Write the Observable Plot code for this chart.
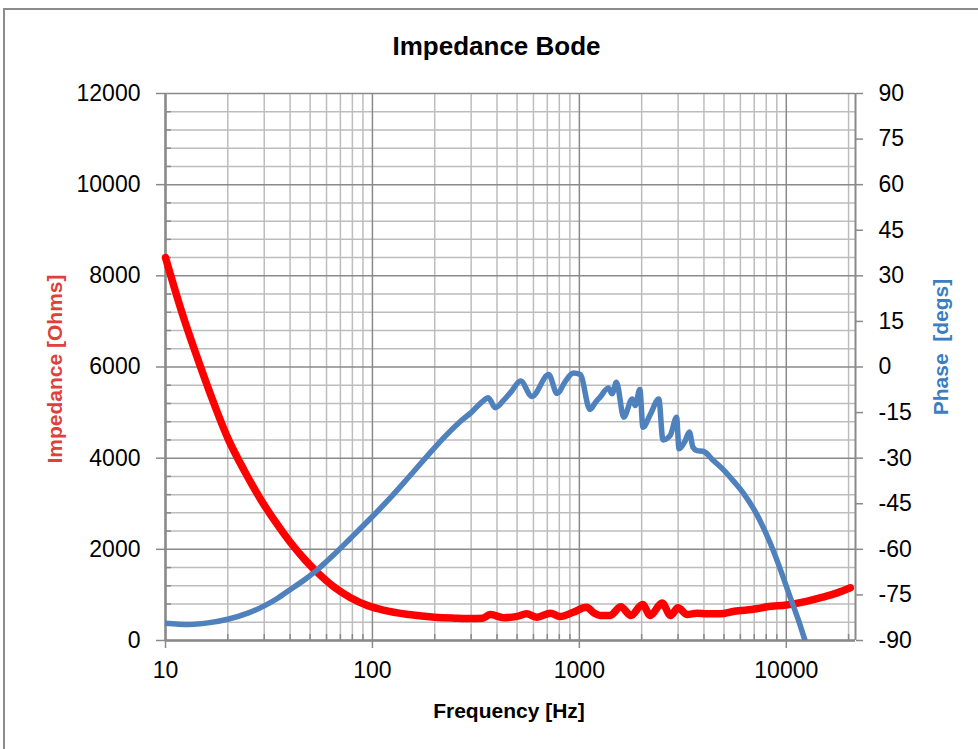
<!DOCTYPE html>
<html><head><meta charset="utf-8">
<script src="https://cdn.jsdelivr.net/npm/d3@7"></script>
<script src="https://cdn.jsdelivr.net/npm/@observablehq/plot@0.6"></script>
<style>
body{margin:0;background:#fff;overflow:hidden;width:978px;height:749px;position:relative;font-family:"Liberation Sans",Arial,sans-serif}
#frame{position:absolute;left:3px;top:8px;width:1100px;height:900px;border-left:2px solid #8c8c8c;border-top:2px solid #8c8c8c;}
#chart{position:absolute;left:0;top:0}
.lbl{position:absolute;font-weight:bold;font-size:21px;line-height:21px;white-space:nowrap}
#title{position:absolute;left:0;width:993px;top:33px;text-align:center;font-weight:bold;font-size:26px;line-height:26px}
</style></head><body>
<div id="frame"></div>
<div id="chart"></div>
<div id="title">Impedance Bode</div>
<div class="lbl" style="left:509px;top:700px;transform:translateX(-50%)">Frequency [Hz]</div>
<div class="lbl" style="left:54px;top:369px;color:#e0403a;transform:translate(-50%,-50%) rotate(-90deg)">Impedance [Ohms]</div>
<div class="lbl" style="left:940px;top:347px;color:#3a7dc2;transform:translate(-50%,-50%) rotate(-90deg)">Phase&nbsp; [degs]</div>
<script>
// Impedance magnitude (Ohms)
const freqZ = [10, 12, 14, 16.5, 20, 24, 28.8, 34, 40, 47, 54, 65, 78, 95, 113, 150, 200, 250, 300, 340, 372, 430, 500, 556, 624, 725, 806, 934, 1083, 1180, 1263, 1410, 1584, 1774, 2020, 2200, 2510, 2760, 3000, 3320, 3700, 4150, 4800, 5600, 7200, 8070, 10000, 12500, 15000, 17500, 20400];
const impedance = [8400, 7200, 6300, 5400, 4440, 3730, 3100, 2600, 2160, 1780, 1500, 1180, 945, 765, 667, 570, 510, 490, 480, 490, 570, 500, 530, 585, 510, 600, 527, 620, 730, 600, 550, 550, 740, 550, 790, 550, 820, 550, 717, 570, 600, 585, 585, 640, 695, 740, 780, 860, 950, 1040, 1156];
// Phase (degrees)
const freqP = [10, 13, 16, 20, 25, 30, 35, 40, 47, 54, 65, 78, 100, 120, 150, 200, 237, 265, 300, 345, 363, 392, 430, 470, 520, 590, 711, 780, 860, 935, 1010, 1125, 1200, 1260, 1380, 1440, 1510, 1640, 1800, 1860, 1960, 2030, 2200, 2420, 2535, 2750, 2950, 3030, 3250, 3400, 3540, 3700, 3990, 4400, 5000, 5600, 6200, 7200, 8370, 9350, 10450, 11460, 12400, 12800];
const phase = [-84.3, -84.7, -84.2, -83.0, -81.0, -78.6, -76.0, -73.3, -70.0, -66.8, -61.8, -56.5, -49.2, -43.6, -36.2, -26.5, -21.2, -18.0, -15.0, -11.0, -10.1, -13.4, -11, -8, -4.6, -9.7, -2.5, -8.7, -4.5, -2.0, -2.5, -14, -11.5, -9.9, -6.9, -8.8, -5.0, -16.5, -10.5, -12.7, -7.4, -19.8, -15.7, -10.5, -24, -22.5, -16.5, -26.9, -24.2, -21.4, -26.4, -27.5, -27.8, -30.5, -34, -37.8, -41.5, -48.5, -58, -66.5, -75.8, -83.4, -90.5, -93];
// Axis ticks
const impTicks = [0, 2000, 4000, 6000, 8000, 10000, 12000];
const phaseTicks = [-90, -75, -60, -45, -30, -15, 0, 15, 30, 45, 60, 75, 90];
const freqTicks = [10, 100, 1000, 10000];

const K = 12000 / 180;
const zData = freqZ.map((f, i) => ({f, v: impedance[i]}));
const pData = freqP.map((f, i) => ({f, p: phase[i]}));
const minorX = [];
for (const d of freqTicks) for (let m = 2; m <= 9; m++) if (d * m <= 20000) minorX.push(d * m);
const minorY = d3.range(400, 12000, 400).filter(v => v % 2000 !== 0);
const G1 = "#bdbdbd", G2 = "#8a8a8a";

const chart = Plot.plot({
  width: 978, height: 749,
  marginTop: 93, marginBottom: 109, marginLeft: 165, marginRight: 123,
  x: {type: "log", domain: [10, 21600]},
  y: {domain: [0, 12000]},
  style: {fontFamily: "Liberation Sans, Arial, sans-serif", fontSize: "23px", color: "#000", background: "transparent"},
  marks: [
    Plot.ruleY(minorY, {stroke: G1, strokeWidth: 1.5}),
    Plot.ruleX(minorX, {stroke: G1, strokeWidth: 1.5}),
    Plot.ruleY(impTicks, {stroke: G2, strokeWidth: 1.5}),
    Plot.ruleX(freqTicks, {stroke: G2, strokeWidth: 1.5}),
    Plot.ruleX([10], {stroke: G2, strokeWidth: 2.5}),
    Plot.ruleX([21600], {stroke: G2, strokeWidth: 2}),
    Plot.ruleY([0], {stroke: G2, strokeWidth: 2.5}),
    Plot.axisX({ticks: freqTicks, tickSize: 8, tickPadding: 13, tickFormat: d => String(d), stroke: G2, strokeWidth: 1.5, fill: "#000", label: null}),
    Plot.axisX({ticks: minorX, tickSize: -6, tickFormat: () => "", stroke: G2, strokeWidth: 1.5, label: null}),
    Plot.axisY({ticks: impTicks, tickSize: 9, tickPadding: 16, tickFormat: d => String(d), stroke: G2, strokeWidth: 1.5, fill: "#000", label: null}),
    Plot.axisY({ticks: minorY, tickSize: -6, tickFormat: () => "", stroke: G2, strokeWidth: 1.5, label: null}),
    Plot.axisY({anchor: "right", ticks: phaseTicks.map(p => (p + 90) * K), tickSize: 7, tickPadding: 16,
      tickFormat: v => String(Math.round(v / K - 90)), stroke: G2, strokeWidth: 1.5, fill: "#000", label: null}),
    Plot.line(zData, {x: "f", y: "v", stroke: "#ff0000", strokeWidth: 7.5, strokeLinejoin: "round", curve: "monotone-x"}),
    Plot.line(pData, {x: "f", y: d => (d.p + 90) * K, stroke: "#4f81bd", strokeWidth: 5.5, strokeLinejoin: "round", curve: "monotone-x", clip: true})
  ]
});
document.getElementById("chart").appendChild(chart);
</script>
</body></html>
